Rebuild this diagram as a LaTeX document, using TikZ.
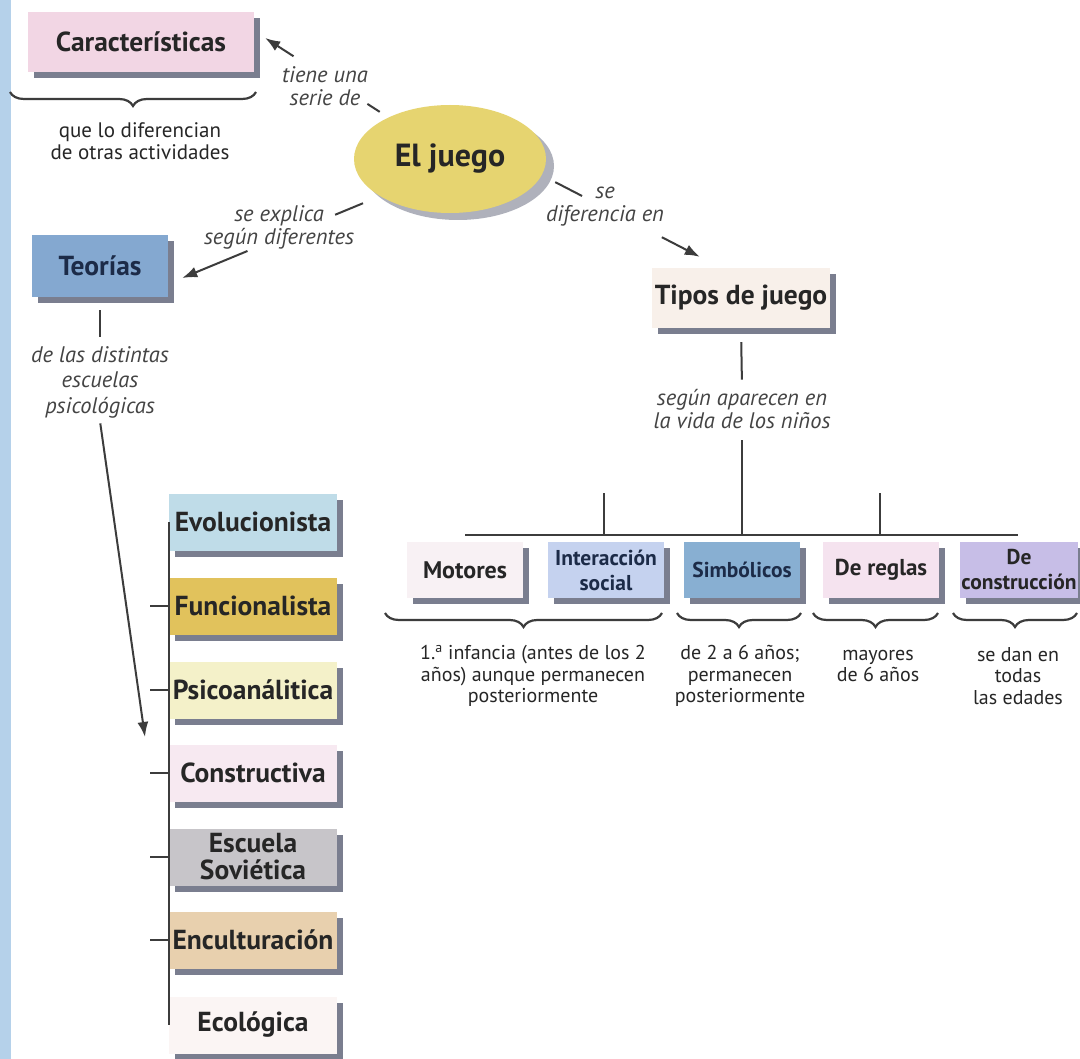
\documentclass[tikz,border=0pt]{standalone}
\usepackage{fontspec}
\setmainfont{PT Sans}
\usetikzlibrary{arrows.meta,shapes.geometric,decorations.pathreplacing,calc,shadows}

\definecolor{ink}{HTML}{262626}
\definecolor{navy}{HTML}{1C2B48}
\definecolor{conn}{HTML}{3C3C3C}
\definecolor{lblgray}{HTML}{444444}
\definecolor{shade}{HTML}{4E536A}
\definecolor{stripe}{HTML}{B5D1EA}
\definecolor{cCarac}{HTML}{F2D6E4}
\definecolor{cJuego}{HTML}{E6D470}
\definecolor{cTeor}{HTML}{84A8D0}
\definecolor{cTipos}{HTML}{F8F0EA}
\definecolor{cEvol}{HTML}{BFDCE8}
\definecolor{cFunc}{HTML}{E1C25C}
\definecolor{cPsic}{HTML}{F4F1C9}
\definecolor{cCons}{HTML}{F7E9F1}
\definecolor{cSov}{HTML}{C7C5C9}
\definecolor{cEncu}{HTML}{E8D0AE}
\definecolor{cEcol}{HTML}{FBF5F4}
\definecolor{cMot}{HTML}{F8F1F4}
\definecolor{cInter}{HTML}{C5D2EF}
\definecolor{cSimb}{HTML}{88AFD2}
\definecolor{cRegl}{HTML}{F5E3EF}
\definecolor{cConst}{HTML}{C7BEE7}

\tikzset{
  box/.style={rectangle, text=ink, align=center, inner sep=1pt,
    font=\bfseries\fontsize{27.5}{28}\selectfont,
    drop shadow={shadow xshift=6pt, shadow yshift=-6pt, fill=shade, opacity=0.75}},
  school/.style={box, minimum width=168pt, minimum height=57pt},
  kind/.style={box, minimum width=116pt, minimum height=56pt,
    font=\bfseries\fontsize{23}{25}\selectfont},
  lbl/.style={font=\itshape\fontsize{22.5}{23}\selectfont, text=lblgray, align=center},
  note/.style={font=\fontsize{21}{22}\selectfont, text=ink, align=center},
  smallnote/.style={font=\fontsize{20}{21.5}\selectfont, text=ink, align=center},
  conn/.style={draw=conn, line width=2pt},
  tip/.style={-{Latex[length=15pt,width=11pt]}},
  brc/.style={draw=conn, line width=2.2pt,
    decorate, decoration={brace, mirror, amplitude=14pt}},
}

\begin{document}
\begin{tikzpicture}[x=1pt,y=-1pt]
  % page and left margin stripe
  \useasboundingbox (0,0) rectangle (1080,1059);
  \fill[white] (0,0) rectangle (1080,1059);
  \fill[stripe] (0,0) rectangle (11,1059);

  % central concept and first-level boxes
  \node[ellipse, fill=cJuego, minimum width=192pt, minimum height=108pt,
        text=ink, font=\bfseries\fontsize{32}{32}\selectfont,
        drop shadow={shadow xshift=8pt, shadow yshift=-7pt, fill=shade, opacity=0.45}]
        (juego) at (450,159) {El juego};
  \node[box, fill=cCarac, minimum width=226pt, minimum height=60pt] (carac) at (141,42) {Características};
  \node[box, fill=cTeor, text=navy, minimum width=136pt, minimum height=62pt] (teorias) at (100,266) {Teorías};
  \node[box, fill=cTipos, minimum width=178pt, minimum height=60pt] (tipos) at (741,298) {Tipos de juego};

  % linking phrases
  \node[lbl] (lbCarac) at (325,86) {tiene una\\serie de};
  \node[lbl] (lbTeor) at (279,227) {se explica\\según diferentes};
  \node[lbl] (lbTipos) at (605,207) {se\\diferencia en};

  % links out of the central ellipse (interrupted by their phrases)
  \coordinate (cTip) at ($(carac.east)+(11,-4)$);
  \coordinate (tTip) at ($(teorias.east)+(14,12)$);
  \coordinate (pTip) at ($(tipos.north west)+(48,-11)$);
  \draw[conn] ($(juego.146)!0.07!(cTip)$) -- ($(juego.146)!0.17!(cTip)$);
  \draw[conn, tip] ($(juego.146)!0.77!(cTip)$) -- (cTip);
  \draw[conn] ($(juego.208)!0.086!(tTip)$) -- ($(juego.208)!0.227!(tTip)$);
  \draw[conn, tip] ($(juego.208)!0.67!(tTip)$) -- (tTip);
  \draw[conn] ($(juego.-10)!0.085!(pTip)$) -- ($(juego.-10)!0.255!(pTip)$);
  \draw[conn, tip] ($(juego.-10)!0.76!(pTip)$) -- (pTip);

  % characteristics
  \draw[brc] (10,92) -- (256,92);
  \node[note] (caracNote) at (140,141) {que lo diferencian\\de otras actividades};

  % theories
  \node[lbl, font=\itshape\fontsize{22.5}{25.5}\selectfont] (escuelas) at (100,382)
        {de las distintas\\escuelas\\psicológicas};
  \draw[conn, shorten <=13pt, shorten >=6pt] (teorias.south) -- (escuelas.north);
  \coordinate (eTip) at (145,737);
  \draw[conn, tip, shorten <=2pt] (escuelas.south) -- (eTip);

  \node[school, fill=cEvol] (evol) at (253,522) {Evolucionista};
  \node[school, fill=cFunc] (func) at (253,606) {Funcionalista};
  \node[school, fill=cPsic] (psic) at (253,690) {Psicoanálitica};
  \node[school, fill=cCons] (cons) at (253,773) {Constructiva};
  \node[school, fill=cSov, font=\bfseries\fontsize{27.5}{27}\selectfont] (sov) at (253,857) {Escuela\\Soviética};
  \node[school, fill=cEncu] (encu) at (253,940) {Enculturación};
  \node[school, fill=cEcol] (ecol) at (253,1025) {Ecológica};

  \draw[conn] (evol.west) -- (ecol.west);
  \foreach \n in {func,psic,cons,sov,encu}
    \draw[conn] (\n.west) -- +(-19,0);

  % kinds of play
  \node[lbl] (segun) at (742,409) {según aparecen en\\la vida de los niños};
  \draw[conn, shorten <=14pt, shorten >=6pt] (tipos.south) -- (segun.north);

  \node[kind, fill=cMot, font=\bfseries\fontsize{24}{25}\selectfont] (mot) at (465,570) {Motores};
  \node[kind, fill=cInter, text=navy, font=\bfseries\fontsize{21.5}{25}\selectfont] (inter) at (606,570) {Interacción\\social};
  \node[kind, fill=cSimb, text=navy, font=\bfseries\fontsize{21.5}{25}\selectfont] (simb) at (742,570) {Simbólicos};
  \node[kind, fill=cRegl] (regl) at (881,570) {De reglas};
  \node[kind, fill=cConst, font=\bfseries\fontsize{21.5}{25}\selectfont] (const) at (1019,570) {De\\construcción};

  \coordinate (barL) at (465,535);
  \coordinate (barR) at (1018,535);
  \coordinate (k1) at (604,493);
  \coordinate (k2) at (880,493);
  \draw[conn] (barL) -- (barR);
  \draw[conn, shorten <=8pt] (segun.south) -- (segun.south |- barL);
  \draw[conn] (k1) -- (k1 |- barL);
  \draw[conn] (k2) -- (k2 |- barL);

  % age ranges
  \draw[brc] (385,613) -- (662,613);
  \draw[brc] (677,613) -- (801,613);
  \draw[brc] (813,613) -- (938,613);
  \draw[brc] (953,613) -- (1077,613);
  \node[smallnote] (ageA) at (533,676) {1.\textsuperscript{a} infancia (antes de los 2\\años) aunque permanecen\\posteriormente};
  \node[smallnote] (ageB) at (740,676) {de 2 a 6 años;\\permanecen\\posteriormente};
  \node[smallnote] (ageC) at (878,666) {mayores\\de 6 años};
  \node[smallnote] (ageD) at (1018,676) {se dan en\\todas\\las edades};
\end{tikzpicture}
\end{document}
